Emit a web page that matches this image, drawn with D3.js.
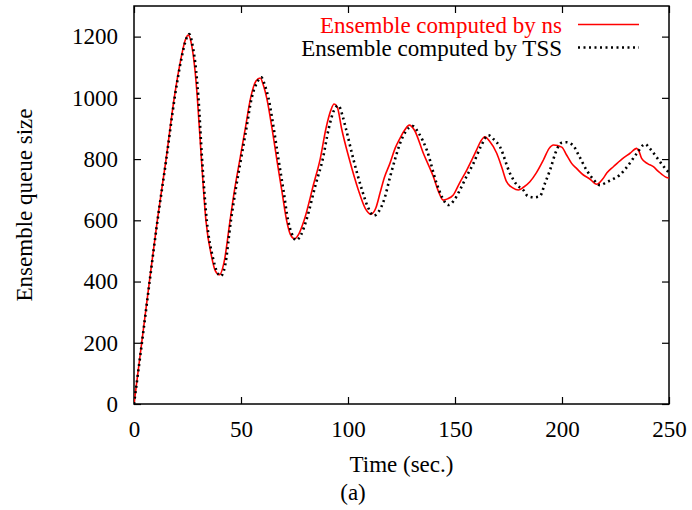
<!DOCTYPE html>
<html lang="en">
  <head>
    <meta charset="utf-8">
    <title>Ensemble queue size</title>
    <script src="https://cdn.jsdelivr.net/npm/d3@7"></script>
    <style>
      body { margin: 0; background: #fff; }
    </style>
  </head>
  <body>
    <script>

    // ensemble computed by ns (red, solid)
    var timeNs  = [0, 3.6, 7.2, 10.9, 15, 18.8, 22, 24, 25.4, 27, 28.5, 29.6, 31.5, 33.6, 36.3, 38, 40, 42, 44.9, 47, 49.5, 52, 54.5, 57, 59, 60.5, 62, 64.5, 66.7, 69, 71.3, 73, 75, 77, 79.5, 84, 87, 89.7, 92, 93.5, 95, 97, 100.6, 104.8, 108, 110.7, 113, 115, 117, 119.6, 122, 124.3, 126.5, 128.7, 131, 135.2, 139.9, 142.5, 144.5, 146.5, 149.2, 152, 155.5, 160.1, 162, 164, 166, 169.5, 172, 174.1, 177, 179.6, 182, 185, 188, 191.3, 194, 196, 199.9, 202, 204.5, 207, 210, 213, 216.2, 219, 221, 224, 228, 231.8, 234.9, 236, 237.2, 240, 242.7, 245, 248.9, 250];
    var queueNs = [0, 200, 400, 600, 800, 1000, 1130, 1190, 1205, 1170, 1090, 1000, 800, 600, 480, 435, 422, 460, 600, 700, 800, 900, 1000, 1055, 1065, 1040, 1000, 900, 800, 700, 600, 555, 540, 555, 600, 720, 800, 900, 960, 980, 970, 900, 800, 700, 640, 620, 640, 690, 740, 786, 835, 868, 895, 911, 895, 819, 742, 690, 666, 670, 683, 720, 764, 830, 858, 873, 860, 819, 770, 726, 706, 699, 708, 726, 755, 797, 835, 846, 839, 815, 786, 768, 748, 735, 718, 735, 755, 775, 800, 819, 835, 825, 802, 785, 775, 760, 740, 738];

    // ensemble computed by TSS (black, dotted)
    var timeTss  = [0, 3.7, 7.3, 11, 15.1, 19, 22.2, 24.3, 25.8, 27.4, 29, 30.1, 31.8, 34, 36.8, 38.6, 40.5, 42.5, 45.3, 47.5, 50, 52.5, 55, 57.5, 59.5, 61.2, 62.8, 65.3, 67.5, 69.8, 72, 73.8, 75.8, 78, 80.5, 85, 88.2, 91, 93.5, 95.5, 97.5, 99, 102.5, 106.5, 109.5, 112, 114.5, 117, 119.6, 122, 124.3, 127, 130.2, 133, 136.8, 141.4, 144, 146.9, 149.5, 152.3, 155.5, 158.6, 162, 165.6, 168, 171, 175.7, 179, 181.9, 184, 187, 189.7, 192, 194.4, 197.5, 199.8, 202, 205, 208, 211.5, 214.5, 217.8, 221, 224, 227, 231, 235, 238.8, 241, 244, 247, 250];
    var queueTss = [0, 200, 400, 600, 800, 1000, 1130, 1190, 1208, 1170, 1090, 1000, 800, 600, 480, 435, 418, 450, 600, 700, 800, 900, 1000, 1050, 1067, 1040, 1000, 900, 800, 700, 600, 555, 535, 552, 600, 720, 800, 900, 960, 975, 940, 900, 800, 700, 640, 615, 630, 670, 740, 800, 851, 890, 908, 885, 830, 721, 675, 650, 665, 699, 745, 786, 840, 878, 865, 840, 753, 715, 699, 679, 675, 679, 720, 764, 830, 853, 855, 846, 810, 764, 735, 715, 725, 735, 748, 780, 819, 849, 835, 808, 780, 755];

    var xTicks = [0, 50, 100, 150, 200, 250];
    var yTicks = [0, 200, 400, 600, 800, 1000, 1200];

    // plot frame in pixels ("top" is taken by window.top, so prefix them)
    var pLeft = 134, pRight = 669, pTop = 6, pBottom = 404;
    var serif = "'Liberation Serif', 'Times New Roman', serif";

    var svg = d3.select("body").append("svg")
                .attr("width", 692)
                .attr("height", 510)
                .style("font-family", serif);

    var x = d3.scaleLinear().domain([0, 250]).range([pLeft, pRight]);
    var y = d3.scaleLinear().domain([0, 1300]).range([pBottom, pTop]);

    svg.append("clipPath").attr("id", "plot")
       .append("rect")
       .attr("x", pLeft).attr("y", pTop)
       .attr("width", pRight - pLeft).attr("height", pBottom - pTop);

    // ticks point inward on all four sides (gnuplot style)
    function styleAxis(g) {
      g.attr("font-family", serif).attr("font-size", 23);
      g.select(".domain").remove();
      g.selectAll("line").attr("stroke", "#000").attr("stroke-width", 1.2);
      g.selectAll("text").attr("fill", "#000")
       .style("font-family", serif).style("font-size", "23px");
    }

    svg.append("g")
       .attr("transform", "translate(0," + pBottom + ")")
       .call(d3.axisBottom(x).tickValues(xTicks).tickFormat(d3.format("d"))
               .tickSizeInner(-7).tickSizeOuter(0).tickPadding(17))
       .call(styleAxis);

    svg.append("g")
       .attr("transform", "translate(0," + pTop + ")")
       .call(d3.axisTop(x).tickValues(xTicks).tickSizeInner(-7).tickSizeOuter(0).tickFormat(""))
       .call(styleAxis);

    svg.append("g")
       .attr("transform", "translate(" + pLeft + ",0)")
       .call(d3.axisLeft(y).tickValues(yTicks).tickFormat(d3.format("d"))
               .tickSizeInner(-7).tickSizeOuter(0).tickPadding(16))
       .call(styleAxis);

    svg.append("g")
       .attr("transform", "translate(" + pRight + ",0)")
       .call(d3.axisRight(y).tickValues(yTicks).tickSizeInner(-7).tickSizeOuter(0).tickFormat(""))
       .call(styleAxis);

    svg.append("rect")
       .attr("x", pLeft).attr("y", pTop)
       .attr("width", pRight - pLeft).attr("height", pBottom - pTop)
       .attr("fill", "none").attr("stroke", "#000").attr("stroke-width", 1.5);

    var line = d3.line()
                 .x(function(d) { return x(d[0]); })
                 .y(function(d) { return y(d[1]); })
                 .curve(d3.curveMonotoneX);

    var ns = timeNs.map(function(t, i) { return [t, queueNs[i]]; });
    var tss = timeTss.map(function(t, i) { return [t, queueTss[i]]; });

    var lines = svg.append("g").attr("clip-path", "url(#plot)");

    lines.append("path")
       .datum(ns)
       .attr("d", line)
       .attr("fill", "none")
       .attr("stroke", "#ff0000")
       .attr("stroke-width", 1.6);

    lines.append("path")
       .datum(tss)
       .attr("d", line)
       .attr("fill", "none")
       .attr("stroke", "#000")
       .attr("stroke-width", 2.6)
       .attr("stroke-dasharray", "2,3.5");

    function label(txt) {
      return txt.style("font-family", serif).style("font-size", "23px");
    }

    // legend
    var legend = svg.append("g");
    label(legend.append("text"))
       .attr("x", 562).attr("y", 32.5)
       .attr("text-anchor", "end")
       .attr("fill", "#ff0000")
       .text("Ensemble computed by ns");
    legend.append("line")
       .attr("x1", 578).attr("x2", 639)
       .attr("y1", 24.5).attr("y2", 24.5)
       .attr("stroke", "#ff0000").attr("stroke-width", 1.6);
    label(legend.append("text"))
       .attr("x", 562).attr("y", 55.5)
       .attr("text-anchor", "end")
       .attr("fill", "#000")
       .text("Ensemble computed by TSS");
    legend.append("line")
       .attr("x1", 578).attr("x2", 639)
       .attr("y1", 47.5).attr("y2", 47.5)
       .attr("stroke", "#000").attr("stroke-width", 2.6)
       .attr("stroke-dasharray", "2,3.5");

    // axis titles
    label(svg.append("text"))
       .attr("x", (pLeft + pRight) / 2).attr("y", 472)
       .attr("text-anchor", "middle")
       .text("Time (sec.)");

    label(svg.append("text"))
       .attr("transform", "translate(32," + ((pTop + pBottom) / 2) + ") rotate(-90)")
       .attr("text-anchor", "middle")
       .text("Ensemble queue size");

    label(svg.append("text"))
       .attr("x", 353).attr("y", 500)
       .attr("text-anchor", "middle")
       .text("(a)");
    </script>
  </body>
</html>
